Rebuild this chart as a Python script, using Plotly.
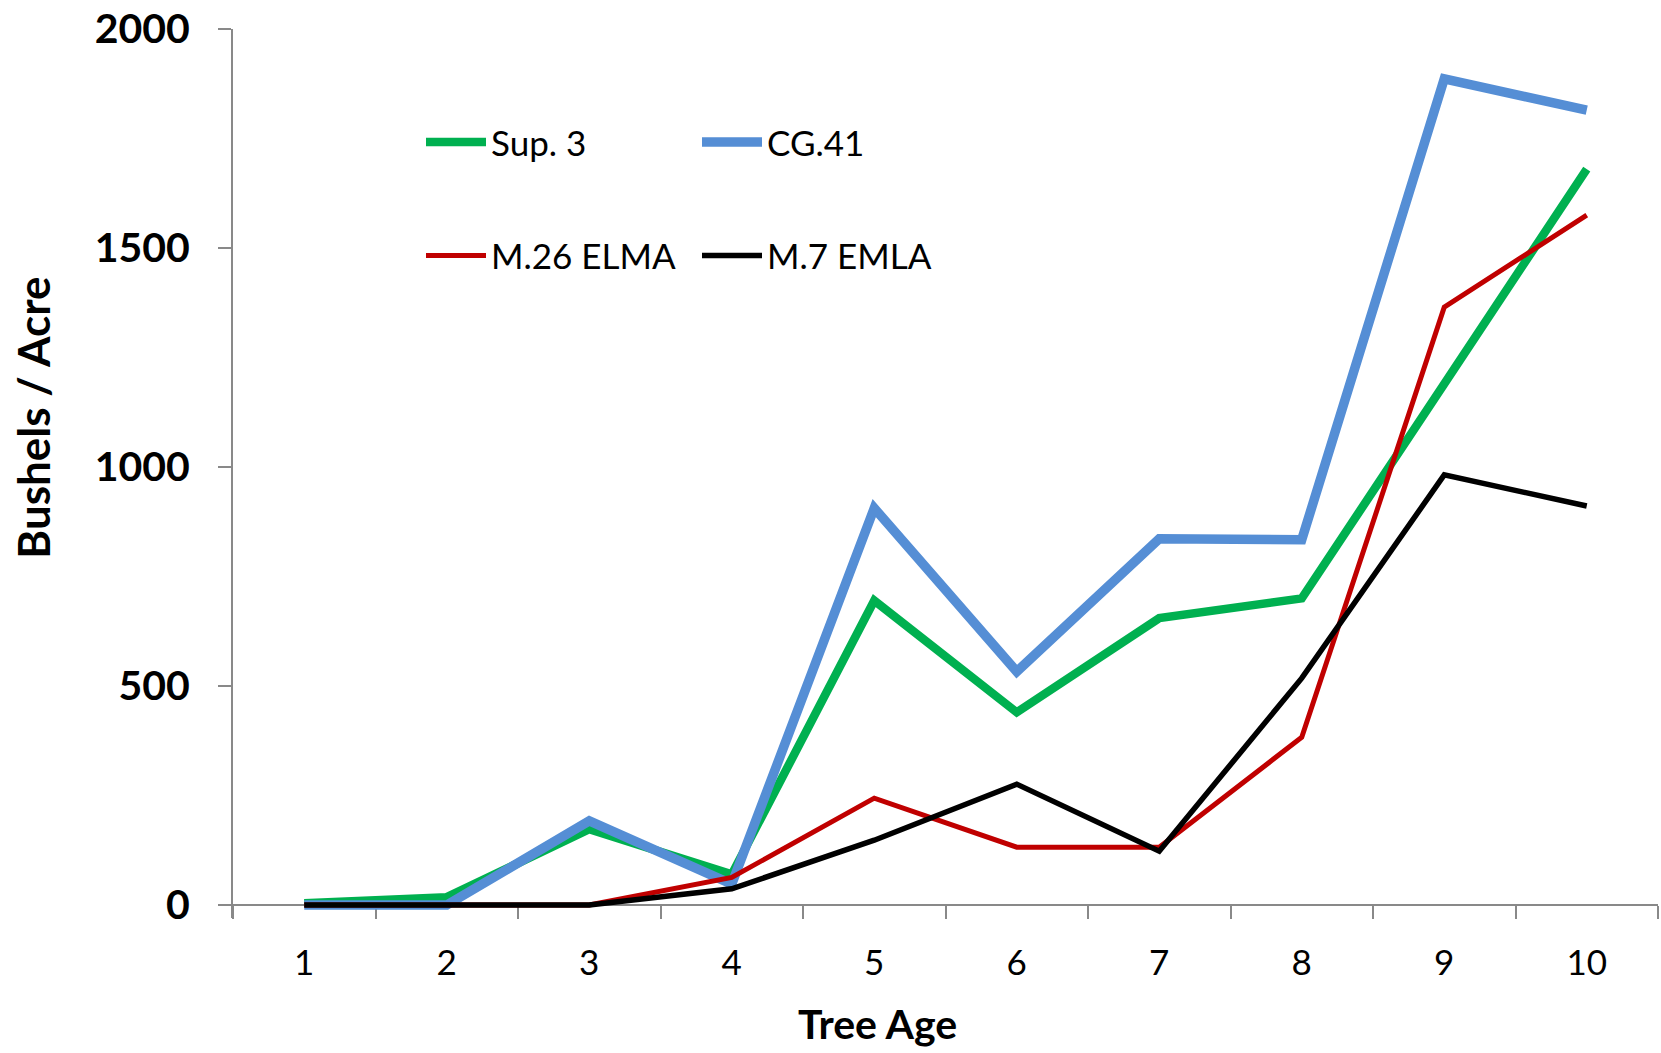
import plotly.graph_objects as go

# Tree age (years) and yield series (bushels per acre)
tree_age = ["1", "2", "3", "4", "5", "6", "7", "8", "9", "10"]
sup3 = [4, 18, 173, 70, 695, 440, 655, 700, 1190, 1680]
cg41 = [0, 0, 192, 48, 906, 533, 836, 834, 1886, 1815]
m26_elma = [0, 0, 0, 63, 244, 132, 132, 383, 1365, 1575]
m7_emla = [0, 0, 0, 37, 148, 276, 123, 518, 982, 911]

y_ticks = [0, 500, 1000, 1500, 2000]

FONT = "Lato"
AXIS_GRAY = "#898989"

# plot area in pixels
L, R, T, B = 233, 3, 26, 135
W, H = 1661, 1053
PW, PH = W - L - R, H - T - B


def px_x(px):
    return (px - L) / PW


def px_y(py):
    return (H - B - py) / PH


# y range reaches a little below zero so the lines sitting on 0 are not clipped;
# the category axis is pinned to y = 0 with a free position
Y_MIN = -29.6
Y_MAX = 2000
x_axis_pos = (0 - Y_MIN) / (Y_MAX - Y_MIN)

fig = go.Figure()

series = [
    ("Sup. 3", sup3, "#00B050", 8.5, "legend"),
    ("CG.41", cg41, "#558ED5", 9.5, "legend2"),
    ("M.26 ELMA", m26_elma, "#C00000", 5, "legend"),
    ("M.7 EMLA", m7_emla, "#000000", 5.5, "legend2"),
]
for name, vals, color, width, leg in series:
    fig.add_trace(go.Scatter(
        x=tree_age, y=vals, name=name, mode="lines",
        line=dict(color=color, width=width),
        legend=leg, legendgroup=name,
    ))

legend_common = dict(
    font=dict(family=FONT, size=35, color="#000000"),
    bgcolor="rgba(0,0,0,0)",
    borderwidth=0,
    xanchor="left", yanchor="top",
    tracegroupgap=65,
    itemwidth=60,
)

fig.update_layout(
    width=W, height=H,
    margin=dict(l=L, r=R, t=T, b=B),
    paper_bgcolor="white", plot_bgcolor="white",
    showlegend=True,
    legend=dict(x=px_x(421), y=px_y(110), **legend_common),
    legend2=dict(x=px_x(697), y=px_y(110), **legend_common),
    xaxis=dict(
        type="category",
        range=[-0.5, 9.5],
        tickson="boundaries",
        ticks="outside", ticklen=13, tickwidth=2, tickcolor=AXIS_GRAY,
        showline=True, linecolor=AXIS_GRAY, linewidth=2,
        showgrid=False, zeroline=False,
        anchor="free", position=x_axis_pos,
        layer="below traces",
        tickfont=dict(family=FONT, size=35, color="#000000"),
        ticklabelstandoff=27,
    ),
    yaxis=dict(
        range=[Y_MIN, Y_MAX],
        tickvals=y_ticks,
        ticktext=[f"<b>{v}</b>" for v in y_ticks],
        ticks="outside", ticklen=13, tickwidth=2, tickcolor=AXIS_GRAY,
        showline=True, linecolor=AXIS_GRAY, linewidth=2,
        showgrid=False, zeroline=False,
        layer="below traces",
        tickfont=dict(family=FONT, size=41, color="#000000"),
        ticklabelstandoff=20,
    ),
    annotations=[
        dict(text="<b>Tree Age</b>", xref="paper", yref="paper",
             x=px_x(877), y=px_y(1024), xanchor="center", yanchor="middle",
             showarrow=False, font=dict(family=FONT, size=41, color="#000000")),
        dict(text="<b>Bushels / Acre</b>", xref="paper", yref="paper",
             x=px_x(33), y=px_y(416), xanchor="center", yanchor="middle",
             textangle=-90, showarrow=False,
             font=dict(family=FONT, size=44, color="#000000")),
    ],
)

fig.write_html("out.html")
